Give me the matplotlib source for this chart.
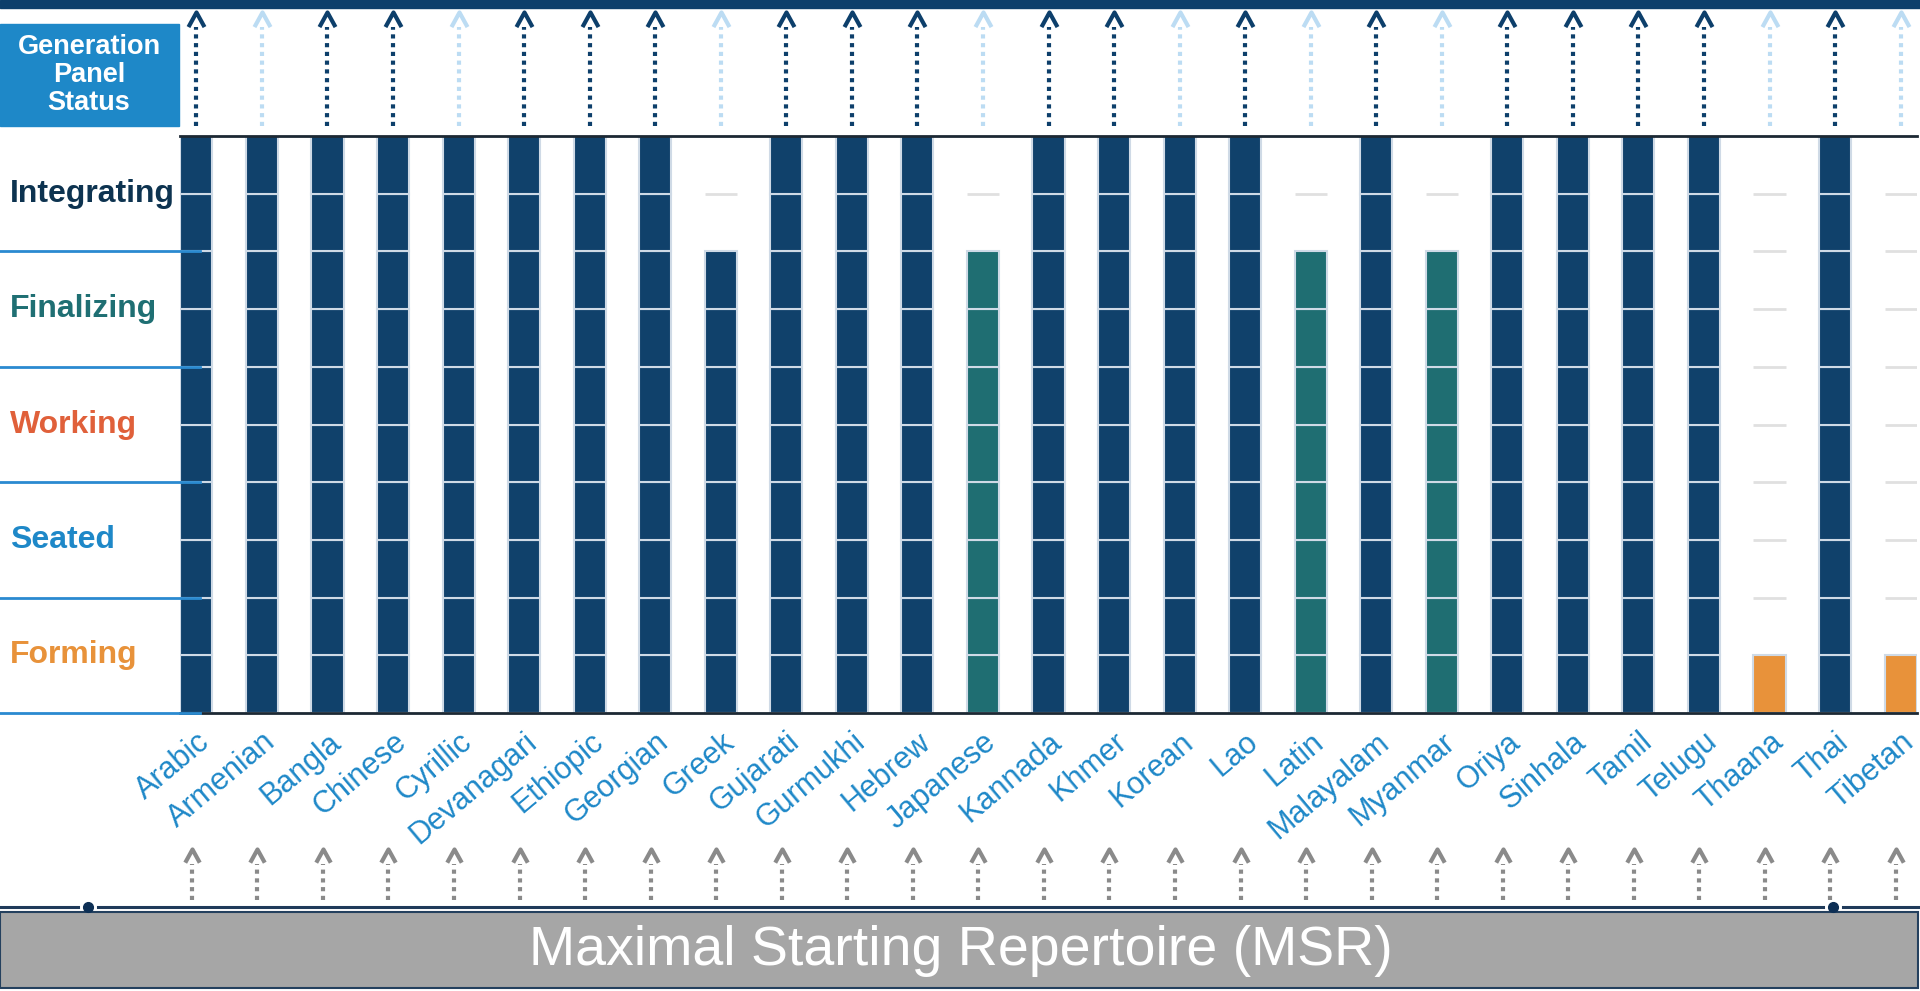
import numpy as np
import matplotlib
matplotlib.use('Agg')
import matplotlib.pyplot as plt
from matplotlib.patches import Rectangle
from matplotlib.lines import Line2D
from matplotlib.transforms import blended_transform_factory

plt.rcParams['font.family'] = ['Liberation Sans', 'DejaVu Sans']

# scripts and how many of the 10 sub-steps each one has done
scripts = ['Arabic', 'Armenian', 'Bangla', 'Chinese', 'Cyrillic', 'Devanagari', 'Ethiopic',
           'Georgian', 'Greek', 'Gujarati', 'Gurmukhi', 'Hebrew', 'Japanese', 'Kannada',
           'Khmer', 'Korean', 'Lao', 'Latin', 'Malayalam', 'Myanmar', 'Oriya', 'Sinhala',
           'Tamil', 'Telugu', 'Thaana', 'Thai', 'Tibetan']
steps_done = [10, 10, 10, 10, 10, 10, 10, 10, 8, 10, 10, 10, 8, 10, 10, 10, 10, 8, 10, 8,
              10, 10, 10, 10, 1, 10, 1]
bar_kind = ['done'] * 27
for s in ['Japanese', 'Latin', 'Myanmar']:
    bar_kind[scripts.index(s)] = 'final'
for s in ['Thaana', 'Tibetan']:
    bar_kind[scripts.index(s)] = 'form'
# generation panel arrows: 1 = active (dark), 0 = pending (light)
panel_active = [1, 0, 1, 1, 0, 1, 1, 1, 0, 1, 1, 1, 0, 1, 1, 0, 1, 0, 1, 0, 1, 1, 1, 1, 0, 1, 0]

stages = ['Forming', 'Seated', 'Working', 'Finalizing', 'Integrating']
stage_colors = ['#e8923a', '#1e88c8', '#e0603a', '#1f6f73', '#0d3350']

kind_colors = {'done': '#10416b', 'final': '#1f6e72', 'form': '#e8923a'}
NAVY = '#0d3f6b'

W, H = 1920, 991
def fx(p):
    return p / W
def fy(p):
    return 1 - p / H

fig = plt.figure(figsize=(19.2, 9.91), dpi=100)

# main bar axes
ax = fig.add_axes([fx(180), fy(713), (1917 - 180) / W, (713 - 136) / H])
ax.set_xlim(-0.25, 26.25)
ax.set_ylim(0, 10)
x = np.arange(len(scripts))
bw = 0.49
for i in x:
    for u in range(10):
        if u < steps_done[i]:
            ax.bar(i, 1, bottom=u, width=bw, color=kind_colors[bar_kind[i]],
                   edgecolor='#cfdae6', linewidth=1.5, zorder=2)
        elif u > 0:
            ax.hlines(u, i - bw / 2, i + bw / 2, color='#e0e0e0', lw=2, zorder=1)

for sp in ['left', 'right']:
    ax.spines[sp].set_visible(False)
ax.spines['top'].set_color('#1c2833')
ax.spines['top'].set_linewidth(2)
ax.spines['bottom'].set_color('#1c2833')
ax.spines['bottom'].set_linewidth(2)
ax.set_yticks([])
ax.set_xticks(x)
ax.set_xticklabels(scripts, rotation=40, ha='right', va='top', rotation_mode='anchor',
                   fontsize=22, color='#1e88c8')
ax.tick_params(axis='x', length=0, pad=10)

# stage labels and separator lines on the left
blend = blended_transform_factory(fig.transFigure, ax.transData)
for k, (name, col) in enumerate(zip(stages, stage_colors)):
    ax.plot([0, fx(200)], [2 * k, 2 * k], transform=blend, clip_on=False,
            color='#2a8ad0', lw=2, zorder=5)
    ax.text(fx(10), 2 * k + 1, name, transform=blend, ha='left', va='center',
            fontsize=23, fontweight='bold', color=col)

# header band and generation panel box
fig.patches.append(Rectangle((0, fy(8)), 1, 8 / H, transform=fig.transFigure,
                             color=NAVY, zorder=0))
fig.patches.append(Rectangle((0, fy(126)), fx(179), (126 - 24) / H,
                             transform=fig.transFigure, color='#1e88c8'))
fig.text(fx(89), fy(75), 'Generation\nPanel\nStatus', ha='center', va='center',
         fontsize=19.5, fontweight='bold', color='white', linespacing=1.1)

chevron = [(-0.55, -1), (0, 0), (0.55, -1)]

# top arrows (generation panel)
ax_top = fig.add_axes([fx(180), fy(128), (1917 - 180) / W, (128 - 8) / H])
ax_top.set_xlim(-0.25, 26.25)
ax_top.set_ylim(128, 8)
ax_top.axis('off')
for i in x:
    c = NAVY if panel_active[i] else '#bcdcf3'
    ax_top.plot([i, i], [126, 27], color=c, lw=3, linestyle=(0, (1, 1.1)))
    ax_top.plot(i, 12, marker=chevron, ms=21, mfc='none', mec=c, mew=3)

# bottom arrows (MSR)
ax_bot = fig.add_axes([fx(180), fy(905), (1917 - 180) / W, (905 - 840) / H])
ax_bot.set_xlim(-0.25, 26.25)
ax_bot.set_ylim(905, 840)
ax_bot.axis('off')
for i in x:
    xb = i - 0.07
    ax_bot.plot([xb, xb], [900, 864], color='#8a8a8a', lw=3, linestyle=(0, (1, 1.1)))
    ax_bot.plot(xb, 849, marker=chevron, ms=19, mfc='none', mec='#8a8a8a', mew=3)

# MSR base line and box
for a, b in [(0, 78), (98, 1823), (1843, 1918)]:
    fig.add_artist(Line2D([fx(a), fx(b)], [fy(907), fy(907)], color='#1f3a5a', lw=2.2))
fig.add_artist(Line2D([fx(88), fx(1833)], [fy(907), fy(907)], ls='none', marker='o',
                      ms=7, color='#0d2f55'))
fig.patches.append(Rectangle((0, fy(988)), fx(1918), (988 - 912) / H,
                             transform=fig.transFigure, facecolor='#a6a6a6',
                             edgecolor='#24405e', lw=1.5))
fig.text(fx(961), fy(951), 'Maximal Starting Repertoire (MSR)', ha='center', va='center',
         fontsize=40, color='white')

fig.savefig('out.png', dpi=100)
